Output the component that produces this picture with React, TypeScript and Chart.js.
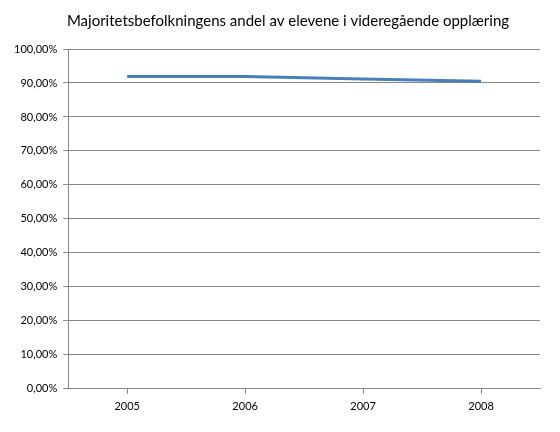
import React, { useEffect, useRef } from "react";
import { Chart, registerables } from "chart.js";

Chart.register(...registerables);

const titleText = "Majoritetsbefolkningens andel av elevene i videregående opplæring";
const years = ["2005", "2006", "2007", "2008"];
const shares = [91.9, 91.9, 91.2, 90.5];

const FONT = "Lato, 'Open Sans', sans-serif";

const titlePlugin = {
  id: "customTitle",
  afterDraw(chart: any) {
    const c = chart.ctx;
    c.save();
    c.font = `normal 15px ${FONT}`;
    c.fillStyle = "#000";
    c.textAlign = "center";
    c.textBaseline = "middle";
    c.fillText(titleText, chart.width / 2 + 8, 21);
    c.restore();
  },
};

export default function App() {
  const ref = useRef<HTMLCanvasElement>(null);
  useEffect(() => {
    document.body.style.margin = "0";
    const ctx = ref.current!;
    const chart = new Chart(ctx, {
      type: "line",
      data: {
        labels: years,
        datasets: [
          {
            label: "Andel",
            data: shares,
            borderColor: "#4a7ebb",
            backgroundColor: "#4a7ebb",
            borderWidth: 3,
            pointRadius: 0,
            tension: 0,
          },
        ],
      },
      plugins: [titlePlugin],
      options: {
        responsive: false,
        animation: false,
        layout: { padding: { left: 8, right: 20, top: 49, bottom: 13 } },
        plugins: {
          legend: { display: false },
          tooltip: { enabled: false },
          title: { display: false },
        },
        scales: {
          x: {
            offset: true,
            grid: {
              offset: false,
              drawOnChartArea: false,
              drawTicks: true,
              tickLength: 5,
              color: "#868686",
            },
            border: { color: "#868686", width: 1 },
            ticks: {
              color: "#000",
              font: { family: FONT, size: 11 },
              padding: 6,
            },
          },
          y: {
            min: 0,
            max: 100,
            grid: {
              color: "#868686",
              tickLength: 5,
              drawTicks: true,
            },
            border: { color: "#868686", width: 1 },
            ticks: {
              stepSize: 10,
              color: "#000",
              font: { family: FONT, size: 11 },
              padding: 6,
              callback: (v: any) => Number(v).toFixed(2).replace(".", ",") + "%",
            },
          },
        },
      },
    });
    return () => chart.destroy();
  }, []);
  return (
    <div style={{ width: 560, height: 432, background: "#fff" }}>
      <canvas ref={ref} width={560} height={432} />
    </div>
  );
}
